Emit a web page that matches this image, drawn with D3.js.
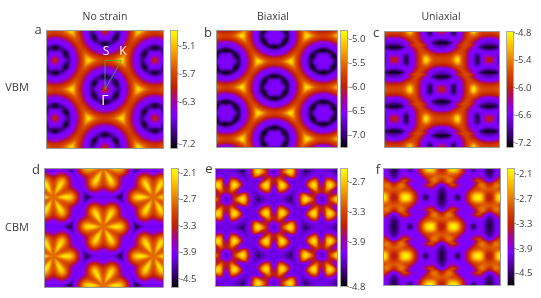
<!DOCTYPE html>
<html><head><meta charset="utf-8">
<style>html,body{margin:0;padding:0;background:#fff}#c,#s{position:absolute;left:0;top:0}</style>
<script src="https://cdn.jsdelivr.net/npm/d3@7"></script></head>
<body><canvas id="c" width="541" height="298"></canvas><svg id="s" width="541" height="298"></svg>
<script>
// Values, in eV.
// Six-fold maps: rows = angle from the K direction, columns = distance from a lattice centre.
const vbmNoStrain=[
[-5.95,-6.1,-6.35,-6.58,-6.62,-6.75,-6.98,-6.85,-6.62,-6.58,-6.5,-6.25,-5.95,-5.75,-5.5,-5.15,-4.85],
[-5.95,-6.1,-6.35,-6.58,-6.62,-6.8,-7.02,-6.88,-6.62,-6.58,-6.5,-6.25,-5.95,-5.75,-5.55,-5.3,-5.1],
[-5.95,-6.1,-6.37,-6.6,-6.65,-6.95,-7.12,-6.92,-6.62,-6.58,-6.5,-6.25,-5.95,-5.78,-5.65,-5.58,-5.55],
[-5.95,-6.1,-6.38,-6.6,-6.68,-7.0,-7.22,-7.0,-6.65,-6.58,-6.5,-6.25,-5.95,-5.82,-5.74,-5.7,-5.7],
[-5.95,-6.1,-6.38,-6.6,-6.7,-7.05,-7.25,-7.08,-6.68,-6.58,-6.5,-6.28,-5.97,-5.84,-5.77,-5.75,-5.75]];
const vbmBiaxial=[
[-6.55,-6.55,-6.56,-6.58,-6.6,-6.8,-7.12,-6.92,-6.62,-6.58,-6.5,-6.25,-5.95,-5.75,-5.5,-5.15,-4.9],
[-6.55,-6.55,-6.56,-6.58,-6.62,-6.85,-7.15,-6.95,-6.62,-6.58,-6.5,-6.25,-5.95,-5.75,-5.55,-5.3,-5.1],
[-6.55,-6.55,-6.56,-6.58,-6.65,-6.92,-7.18,-6.98,-6.62,-6.58,-6.5,-6.25,-5.95,-5.78,-5.65,-5.58,-5.55],
[-6.55,-6.55,-6.56,-6.6,-6.7,-7.0,-7.2,-7.0,-6.65,-6.58,-6.5,-6.25,-5.95,-5.82,-5.74,-5.7,-5.7],
[-6.55,-6.55,-6.56,-6.6,-6.72,-7.05,-7.22,-7.02,-6.68,-6.58,-6.5,-6.28,-5.97,-5.84,-5.77,-5.75,-5.75]];
const cbmNoStrain=[
[-2.8,-2.75,-2.6,-2.4,-2.25,-2.15,-2.1,-2.12,-2.2,-2.42,-2.72,-3.05,-3.4,-3.75,-4.0,-4.3,-4.6],
[-2.8,-2.78,-2.68,-2.55,-2.42,-2.35,-2.33,-2.38,-2.45,-2.62,-2.85,-3.15,-3.5,-3.82,-4.0,-4.2,-4.4],
[-2.8,-2.8,-2.78,-2.72,-2.7,-2.7,-2.7,-2.72,-2.78,-2.9,-3.1,-3.4,-3.72,-3.92,-4.0,-4.05,-4.1],
[-2.8,-2.8,-2.82,-2.82,-2.85,-2.88,-2.9,-2.95,-3.0,-3.15,-3.4,-3.7,-3.9,-3.97,-4.0,-4.0,-4.0],
[-2.8,-2.82,-2.85,-2.88,-2.92,-2.95,-3.0,-3.05,-3.15,-3.35,-3.62,-3.85,-3.95,-3.98,-3.98,-3.98,-3.98]];
const cbmBiaxial=[
[-4.3,-4.25,-4.15,-3.75,-3.45,-3.2,-2.95,-2.7,-2.55,-2.65,-3.0,-3.5,-4.0,-4.2,-4.3,-4.45,-4.65],
[-4.3,-4.25,-4.12,-3.8,-3.5,-3.25,-3.0,-2.8,-2.7,-2.8,-3.1,-3.55,-4.05,-4.2,-4.28,-4.38,-4.45],
[-4.3,-4.25,-4.1,-3.85,-3.6,-3.55,-3.5,-3.35,-3.15,-3.15,-3.3,-3.7,-4.1,-4.22,-4.25,-4.27,-4.3],
[-4.3,-4.25,-4.1,-3.88,-3.62,-3.6,-3.62,-3.72,-3.82,-3.95,-4.08,-4.18,-4.22,-4.22,-4.22,-4.22,-4.22],
[-4.3,-4.25,-4.1,-3.9,-3.72,-3.72,-3.85,-4.0,-4.12,-4.2,-4.25,-4.27,-4.25,-4.2,-4.18,-4.18,-4.18]];
// Uniaxial maps: rows and columns of one repeating tile, measured from a lattice centre.
const vbmUniaxial=[
[-6.0,-6.05,-6.2,-6.5,-6.65,-6.95,-7.25,-6.95,-6.65,-6.6,-6.52,-6.25,-5.95,-5.78,-5.55,-5.15,-4.85,-5.05,-5.35,-5.55,-5.65,-5.7,-5.72,-5.72,-5.72],
[-6.1,-6.15,-6.25,-6.52,-6.65,-6.95,-7.2,-6.95,-6.65,-6.6,-6.52,-6.25,-5.95,-5.78,-5.55,-5.25,-5.0,-5.2,-5.45,-5.62,-5.7,-5.74,-5.76,-5.76,-5.76],
[-6.4,-6.4,-6.5,-6.6,-6.65,-6.85,-7.1,-6.85,-6.65,-6.6,-6.5,-6.25,-5.95,-5.78,-5.6,-5.45,-5.35,-5.45,-5.62,-5.75,-5.82,-5.87,-5.9,-5.92,-5.92],
[-6.62,-6.62,-6.62,-6.62,-6.62,-6.65,-6.75,-6.7,-6.62,-6.58,-6.48,-6.2,-5.93,-5.78,-5.7,-5.65,-5.62,-5.7,-5.8,-5.9,-6.0,-6.07,-6.12,-6.14,-6.14],
[-6.7,-6.7,-6.68,-6.62,-6.58,-6.58,-6.6,-6.6,-6.58,-6.52,-6.35,-6.12,-5.9,-5.78,-5.72,-5.74,-5.8,-5.9,-6.02,-6.22,-6.42,-6.5,-6.52,-6.55,-6.55],
[-7.05,-7.05,-7.0,-6.92,-6.8,-6.65,-6.58,-6.55,-6.52,-6.4,-6.22,-6.0,-5.82,-5.74,-5.77,-5.87,-6.0,-6.17,-6.38,-6.52,-6.58,-6.6,-6.62,-6.65,-6.65],
[-7.25,-7.25,-7.25,-7.2,-7.1,-6.9,-6.65,-6.55,-6.48,-6.27,-6.02,-5.84,-5.74,-5.74,-5.87,-6.02,-6.22,-6.42,-6.55,-6.6,-6.65,-6.7,-6.75,-6.78,-6.8],
[-7.0,-7.0,-6.98,-6.92,-6.8,-6.62,-6.55,-6.37,-6.07,-5.9,-5.77,-5.72,-5.72,-5.72,-5.77,-5.9,-6.07,-6.37,-6.55,-6.62,-6.8,-6.92,-6.98,-7.0,-7.0]];
const cbmUniaxial=[
[-3.5,-3.4,-3.05,-2.65,-2.25,-2.05,-2.02,-2.1,-2.3,-2.65,-3.0,-3.3,-3.65,-3.95,-4.1,-4.4,-4.7,-4.4,-4.1,-3.98,-3.95,-4.1,-4.35,-4.55,-4.65],
[-3.4,-3.3,-3.0,-2.65,-2.3,-2.15,-2.15,-2.2,-2.4,-2.7,-3.05,-3.35,-3.7,-3.97,-4.05,-4.25,-4.45,-4.25,-4.05,-3.98,-3.97,-4.1,-4.35,-4.55,-4.62],
[-3.2,-3.15,-3.0,-2.8,-2.6,-2.5,-2.5,-2.55,-2.7,-2.9,-3.15,-3.45,-3.8,-3.98,-4.0,-4.05,-4.1,-4.05,-4.0,-3.98,-3.97,-4.1,-4.3,-4.5,-4.55],
[-3.0,-3.0,-2.95,-2.9,-2.85,-2.85,-2.85,-2.9,-3.0,-3.15,-3.4,-3.7,-3.95,-4.0,-4.0,-4.0,-4.0,-3.98,-3.97,-3.95,-3.98,-4.05,-4.25,-4.42,-4.48],
[-2.9,-2.9,-2.85,-2.85,-2.9,-3.0,-3.05,-3.1,-3.2,-3.4,-3.7,-3.95,-4.0,-4.0,-4.0,-3.98,-3.95,-3.88,-3.8,-3.78,-3.85,-3.98,-4.15,-4.32,-4.38],
[-3.05,-3.0,-2.85,-2.75,-2.75,-2.85,-3.05,-3.25,-3.5,-3.8,-4.0,-4.0,-4.0,-4.0,-3.98,-3.9,-3.75,-3.55,-3.42,-3.4,-3.5,-3.75,-4.0,-4.18,-4.22],
[-3.3,-3.15,-2.95,-2.75,-2.72,-2.85,-3.1,-3.4,-3.75,-3.95,-4.0,-4.0,-4.0,-3.98,-3.9,-3.7,-3.45,-3.2,-3.05,-3.05,-3.2,-3.5,-3.85,-4.0,-4.05],
[-3.65,-3.45,-3.15,-2.95,-2.9,-3.0,-3.3,-3.65,-3.9,-4.0,-4.0,-4.0,-4.0,-4.0,-4.0,-4.0,-3.9,-3.65,-3.3,-3.0,-2.9,-2.95,-3.15,-3.45,-3.65]];
const columnTitles=["No strain","Biaxial","Uniaxial"];
const rowTitles=["VBM","CBM"];
const panelLetters=["a","b","c","d","e","f"];
const ticksA=[-5.1,-5.7,-6.3,-7.2], ticksB=[-5.0,-5.5,-6.0,-6.5,-7.0], ticksC=[-4.8,-5.4,-6.0,-6.6,-7.2];
const ticksD=[-2.1,-2.7,-3.3,-3.9,-4.5], ticksE=[-2.7,-3.3,-3.9,-4.8], ticksF=[-2.1,-2.7,-3.3,-3.9,-4.5];
const rangeA=[-7.3,-4.8], rangeB=[-7.25,-4.85], rangeC=[-7.31,-4.8], rangeD=[-4.7,-2.03], rangeE=[-4.8,-2.46], rangeF=[-4.79,-2.0];

const panels=[
 {tile:vbmNoStrain,sixfold:true,ticks:ticksA,range:rangeA,x:[47,163],y:[31,148],cx:105,cy:89.3,dx:50,dy:29,bar:171,lx:38,ly:34},
 {tile:vbmBiaxial,sixfold:true,ticks:ticksB,range:rangeB,x:[217,337],y:[31,147],cx:274.5,cy:87.3,dx:48.7,dy:25.8,bar:341,lx:208,ly:37},
 {tile:vbmUniaxial,sixfold:false,ticks:ticksC,range:rangeC,x:[385,499],y:[32,147],cx:441.7,cy:89.3,dx:47.5,dy:29.5,bar:507,lx:376,ly:37},
 {tile:cbmNoStrain,sixfold:true,ticks:ticksD,range:rangeD,x:[45,163],y:[169,287],cx:103.3,cy:226.7,dx:50,dy:29.5,bar:172,lx:36,ly:174},
 {tile:cbmBiaxial,sixfold:true,ticks:ticksE,range:rangeE,x:[216,337],y:[169,286],cx:274,cy:227.3,dx:47.7,dy:28,bar:341,lx:209,ly:173},
 {tile:cbmUniaxial,sixfold:false,ticks:ticksF,range:rangeF,x:[384,500],y:[169,285],cx:441.7,cy:226.7,dx:47.7,dy:29.3,bar:508,lx:378,ly:174}
];
const paletteStops=[0,.08,.28,.4,.52,.65,.88,1];
const paletteColors=["#000000","#2c0058","#7d00ff","#a200a8","#c02000","#d84a00","#ffc000","#ffff00"];
const font="'Open Sans',sans-serif", ink="#3c3c3c";

const ctx=document.getElementById("c").getContext("2d");
const svg=d3.select("#s");
const mix=d3.interpolateNumber;
function fold(u,n){ u=Math.abs(u)%(2*n); return u>n?2*n-u:u; }
function bilinear(get,u,v,nu,nv){
  const i=Math.min(Math.floor(u),nu-1), j=Math.min(Math.floor(v),nv-1);
  return mix(mix(get(i,j),get(i+1,j))(u-i),mix(get(i,j+1),get(i+1,j+1))(u-i))(v-j);
}
const RT3=Math.sqrt(3);

panels.forEach((p,idx)=>{
  const color=d3.scaleLinear().domain(paletteStops.map(t=>p.range[0]+t*(p.range[1]-p.range[0]))).range(paletteColors).clamp(true);
  const w=p.x[1]-p.x[0], h=p.y[1]-p.y[0];
  const img=ctx.createImageData(w,h);
  const rows=p.tile.length, cols=p.tile[0].length-1;
  let sample;
  if(p.sixfold){
    const U=d3.scaleLinear().domain([p.cx,p.cx+p.dx]).range([0,12]);
    const V=d3.scaleLinear().domain([p.cy,p.cy+p.dy]).range([0,12/RT3]);
    const D=d3.scaleLinear().domain([0,8]).range([0,cols]).clamp(true);
    const A=d3.scaleLinear().domain([0,30]).range([0,rows-1]);
    sample=(x,y)=>{
      let u=fold(U(x),12), v=fold(V(y),12/RT3);
      const d0=Math.hypot(u,v), d1=Math.hypot(12-u,12/RT3-v);
      if(d1<d0){u=12-u;v=12/RT3-v;}
      const ang=Math.atan2(v,u)*180/Math.PI;
      const m=((ang%60)+60)%60, phi=m>30?60-m:m;
      return bilinear((i,j)=>p.tile[j][i],D(Math.hypot(u,v)),A(phi),cols,rows-1);
    };
  }else{
    const half=2*rows-2;
    const U=d3.scaleLinear().domain([p.cx,p.cx+p.dx]).range([0,cols]);
    const V=d3.scaleLinear().domain([p.cy,p.cy+p.dy]).range([0,half]);
    const get=(i,j)=>j<rows?p.tile[j][i]:p.tile[half-j][cols-i];
    sample=(x,y)=>bilinear(get,fold(U(x),cols),fold(V(y),half),cols,half);
  }
  for(let py=0;py<h;py++)for(let px=0;px<w;px++){
    const c=d3.rgb(color(sample(p.x[0]+px+.5,p.y[0]+py+.5))), k=(py*w+px)*4;
    img.data[k]=c.r;img.data[k+1]=c.g;img.data[k+2]=c.b;img.data[k+3]=255;
  }
  ctx.putImageData(img,p.x[0],p.y[0]);
  svg.append("rect").attr("x",p.x[0]-.5).attr("y",p.y[0]-.5).attr("width",w+1).attr("height",h+1)
    .attr("fill","none").attr("stroke","#9a9a9a");
  const barW=6, Y=d3.scaleLinear().domain(p.range).range([p.y[1],p.y[0]]);
  for(let py=p.y[0];py<p.y[1];py++){ ctx.fillStyle=color(Y.invert(py+.5)); ctx.fillRect(p.bar,py,barW,1); }
  svg.append("rect").attr("x",p.bar-.5).attr("y",p.y[0]-.5).attr("width",barW+1).attr("height",h+1)
    .attr("fill","none").attr("stroke","#a8a8a8");
  const axis=d3.axisRight(Y).tickValues(p.ticks).tickSize(2).tickPadding(0);
  const g=svg.append("g").attr("transform",`translate(${p.bar+barW},0)`).call(axis);
  g.select(".domain").remove();
  g.selectAll("line").attr("stroke","#888");
  g.selectAll("text").attr("font-family",font).attr("font-size",9.5).attr("fill",ink).text(d=>d3.format(".1f")(d).replace("\u2212","-"));
  svg.append("text").attr("x",p.lx).attr("y",p.ly).attr("text-anchor","middle").attr("font-family",font).attr("font-size",13).attr("fill",ink).text(panelLetters[idx]);
});
const titleX=[105,273,441];
columnTitles.forEach((t,i)=>svg.append("text").attr("x",titleX[i]).attr("y",20).attr("text-anchor","middle").attr("font-family",font).attr("font-size",10.5).attr("fill",ink).text(t));
const rowY=[91,231];
rowTitles.forEach((t,i)=>svg.append("text").attr("x",17).attr("y",rowY[i]).attr("text-anchor","middle").attr("font-family",font).attr("font-size",11).attr("fill",ink).text(t));
const pathNames=[{n:"S",x:106,y:55,s:12},{n:"K",x:123,y:55,s:12},{n:"\u0393",x:105,y:105,s:14}];
pathNames.forEach(d=>svg.append("text").attr("x",d.x).attr("y",d.y).attr("text-anchor","middle").attr("font-family",font).attr("font-size",d.s).attr("fill","#fff").text(d.n));
const a=panels[0];
svg.append("path").attr("d",d3.line()([[a.cx,a.cy],[a.cx,a.cy-a.dy],[a.cx+a.dx/3,a.cy-a.dy],[a.cx,a.cy]])).attr("fill","none").attr("stroke","#3fae49").attr("stroke-width",.8);
</script></body></html>
